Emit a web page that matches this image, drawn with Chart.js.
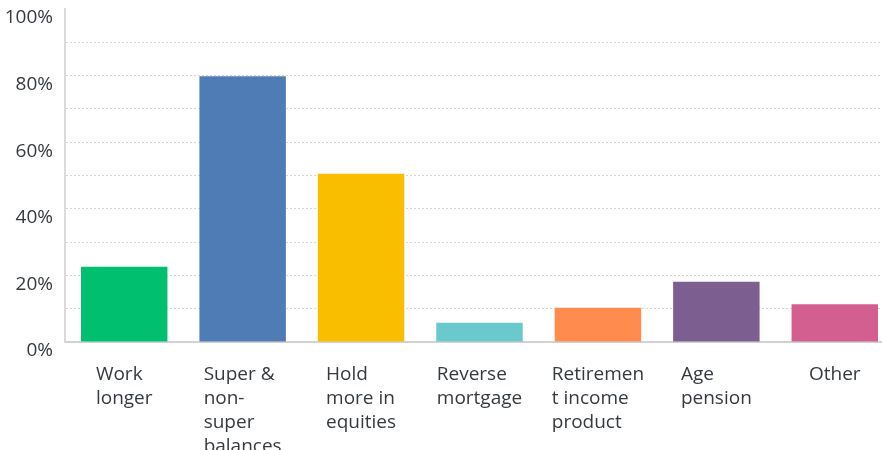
<!DOCTYPE html>
<html>
<head>
<meta charset="utf-8">
<script src="https://cdn.jsdelivr.net/npm/chart.js@4.4.1/dist/chart.umd.min.js"></script>
<style>
  html, body { margin: 0; padding: 0; background: #fff; overflow: hidden; }
  #wrap { width: 894px; height: 450px; }
</style>
</head>
<body>
<div id="wrap"><canvas id="myChart" width="894" height="450"></canvas></div>
<script>
// Survey answers: share of respondents per option (%)
var categories = [
    ['Work', 'longer'],
    ['Super &', 'non-', 'super', 'balances'],
    ['Hold', 'more in', 'equities'],
    ['Reverse', 'mortgage'],
    ['Retiremen', 't income', 'product'],
    ['Age', 'pension'],
    ['Other']
]
var values = [22.6, 79.8, 50.5, 5.8, 10.3, 18.1, 11.3]
var colors = ['#00BF6F', '#507CB6', '#F9BE00', '#6BC8CD', '#FF8B4F', '#7D5E90', '#D25F90']
var yTicks = [0, 20, 40, 60, 80, 100]

var fontFamily = "'Open Sans', sans-serif"
var textColor = '#353a40'

// x labels: block centred under the bar, lines left-aligned inside it
var categoryLabels = {
    id: 'categoryLabels',
    afterDraw(chart) {
        var ctx = chart.ctx
        var xScale = chart.scales.x
        var top = chart.chartArea.bottom + 38
        ctx.save()
        ctx.font = '19px ' + fontFamily
        ctx.fillStyle = textColor
        ctx.textAlign = 'left'
        ctx.textBaseline = 'alphabetic'
        categories.forEach((lines, i) => {
            var w = Math.max(...lines.map(l => ctx.measureText(l).width))
            var left = xScale.getPixelForValue(i) - w / 2
            lines.forEach((line, k) => ctx.fillText(line, left, top + k * 24))
        })
        ctx.restore()
    }
}

var ctx = document.getElementById('myChart').getContext('2d')

var myChart = new Chart(ctx, {
    type: 'bar',
    data: {
        labels: categories.map(c => c.join(' ')),
        datasets: [{
            data: values,
            backgroundColor: colors,
            barPercentage: 0.73,
            categoryPercentage: 1
        }]
    },
    options: {
        responsive: false,
        animation: false,
        layout: { padding: { top: 0, right: 0, bottom: 108, left: 0 } },
        plugins: {
            legend: { display: false },
            tooltip: { enabled: false }
        },
        scales: {
            x: {
                grid: { display: false, drawTicks: false },
                border: { color: '#d2d2d2', width: 2 },
                ticks: { display: false }
            },
            y: {
                min: 0,
                max: 100,
                afterFit: s => {
                    s.width = 65
                    s.paddingTop = 9
                    s.paddingBottom = 0
                },
                ticks: {
                    stepSize: 10,
                    padding: 12,
                    labelOffset: 9,
                    color: textColor,
                    font: { family: fontFamily, size: 19 },
                    callback: v => yTicks.includes(v) ? v + '%' : ''
                },
                grid: {
                    drawTicks: false,
                    color: c => c.tick.value == 100 || c.tick.value == 0 ? 'rgba(0,0,0,0)' : '#d6d6d6'
                },
                // dash here is for the grid lines; the axis line stays solid
                border: { color: '#dadada', width: 2, dash: [2, 2] }
            }
        }
    },
    plugins: [categoryLabels]
})
</script>
</body>
</html>
